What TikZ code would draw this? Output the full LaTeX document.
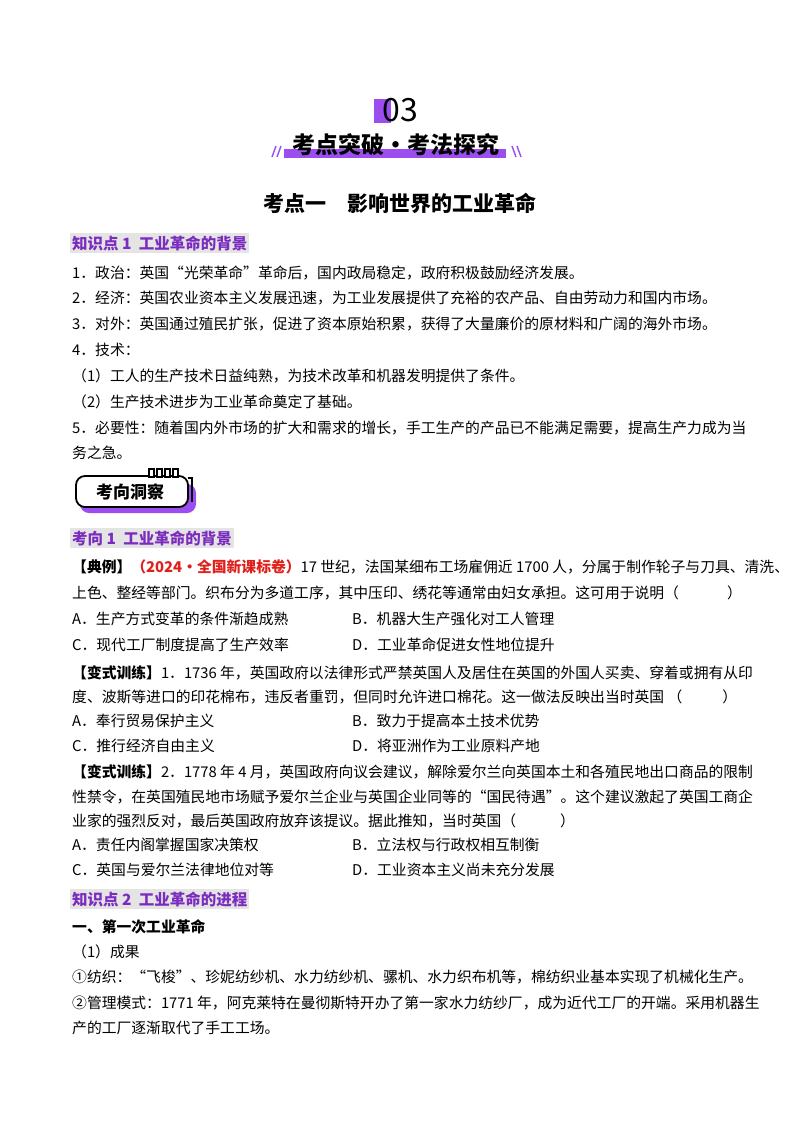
\documentclass[tikz,border=0pt]{standalone}
\usepackage{fontspec}
\setmainfont{Noto Sans CJK SC}
\definecolor{pur}{HTML}{7B2CBF}
\definecolor{vio}{HTML}{9B4DF0}
\definecolor{hbg}{HTML}{E4E4E4}
\definecolor{redt}{HTML}{E0201B}
\begin{document}
\begin{tikzpicture}[x=1pt,y=-1pt,
  t/.style={anchor=west,inner sep=0pt,font=\fontsize{14.8}{17}\selectfont},
  h/.style={anchor=west,inner sep=2pt,fill=hbg,text=pur,font=\fontsize{15.5}{18}\selectfont\bfseries}]
\useasboundingbox (0,0) rectangle (800,1132);
\fill[white] (0,0) rectangle (800,1132);
% header
\fill[vio] (374,99) rectangle (391,123);
\node[inner sep=0pt,font=\fontsize{32}{32}\selectfont] (n03) at (400,110) {03};
\fill[vio] (284,149) rectangle (506,158);
\node[inner sep=0pt,font=\fontsize{23}{23}\selectfont\bfseries] (band) at (396,145) {考点突破·考法探究};
\draw[vio,line width=1.4pt] (272,157)--(276,146) (277,157)--(281,146) (512,146)--(516,157) (517,146)--(521,157);
\node[inner sep=0pt,font=\fontsize{21}{21}\selectfont\bfseries] (title) at (400,203) {考点一\quad 影响世界的工业革命};
% KP1
\node[h] (k1) at (70,243) {知识点 1\ \ 工业革命的背景};
\node[t] (l1) at (72,273) {1．政治：英国“光荣革命”革命后，国内政局稳定，政府积极鼓励经济发展。};
\node[t] (l2) at (72,298) {2．经济：英国农业资本主义发展迅速，为工业发展提供了充裕的农产品、自由劳动力和国内市场。};
\node[t] (l3) at (72,324) {3．对外：英国通过殖民扩张，促进了资本原始积累，获得了大量廉价的原材料和广阔的海外市场。};
\node[t] (l4) at (72,350) {4．技术：};
\node[t] (l5) at (72,376) {（1）工人的生产技术日益纯熟，为技术改革和机器发明提供了条件。};
\node[t] (l6) at (72,402) {（2）生产技术进步为工业革命奠定了基础。};
\node[t] (l7) at (72,428) {5．必要性：随着国内外市场的扩大和需求的增长，手工生产的产品已不能满足需要，提高生产力成为当};
\node[t] (l8) at (72,453) {务之急。};
% badge
\fill[vio,rounded corners=9pt] (80,484) rectangle (196,513);
\draw[line width=1.8pt,fill=white,rounded corners=9pt] (76,476) rectangle (188,507);
\foreach \x in {149,157,165,173}{\draw[line width=1.2pt,fill=white] (\x,469) rectangle (\x+5,477);}
\draw[line width=1.8pt] (188,478)--(192,478)--(192,502);
\node[inner sep=0pt,font=\fontsize{17}{17}\selectfont\bfseries] (bdg) at (130,492) {考向洞察};
% KX1
\node[h] (x1) at (70,538) {考向 1\ \ 工业革命的背景};
\node[t] (e1) at (72,567) {\textbf{【典例】}\textcolor{redt}{\textbf{（2024·全国新课标卷）}}17 世纪，法国某细布工场雇佣近 1700 人，分属于制作轮子与刀具、清洗、};
\node[t] (e2) at (72,593) {上色、整经等部门。织布分为多道工序，其中压印、绣花等通常由妇女承担。这可用于说明（\hspace{48pt}）};
\node[t] (e3) at (72,619) {A．生产方式变革的条件渐趋成熟};
\node[t] (e4) at (352,619) {B．机器大生产强化对工人管理};
\node[t] (e5) at (72,645) {C．现代工厂制度提高了生产效率};
\node[t] (e6) at (352,645) {D．工业革命促进女性地位提升};
\node[t] (b1) at (72,673) {\textbf{【变式训练】}1．1736 年，英国政府以法律形式严禁英国人及居住在英国的外国人买卖、穿着或拥有从印};
\node[t] (b2) at (72,697) {度、波斯等进口的印花棉布，违反者重罚，但同时允许进口棉花。这一做法反映出当时英国 （\hspace{40pt}）};
\node[t] (b3) at (72,721) {A．奉行贸易保护主义};
\node[t] (b4) at (352,721) {B．致力于提高本土技术优势};
\node[t] (b5) at (72,746) {C．推行经济自由主义};
\node[t] (b6) at (352,746) {D．将亚洲作为工业原料产地};
\node[t] (c1) at (72,772) {\textbf{【变式训练】}2．1778 年 4 月，英国政府向议会建议，解除爱尔兰向英国本土和各殖民地出口商品的限制};
\node[t] (c2) at (72,797) {性禁令，在英国殖民地市场赋予爱尔兰企业与英国企业同等的“国民待遇”。这个建议激起了英国工商企};
\node[t] (c3) at (72,821) {业家的强烈反对，最后英国政府放弃该提议。据此推知，当时英国（\hspace{44pt}）};
\node[t] (c4) at (72,845) {A．责任内阁掌握国家决策权};
\node[t] (c5) at (352,845) {B．立法权与行政权相互制衡};
\node[t] (c6) at (72,870) {C．英国与爱尔兰法律地位对等};
\node[t] (c7) at (352,870) {D．工业资本主义尚未充分发展};
% KP2
\node[h] (k2) at (70,899) {知识点 2\ \ 工业革命的进程};
\node[t,font=\fontsize{14.8}{17}\selectfont\bfseries] (m1) at (72,927) {一、第一次工业革命};
\node[t] (m2) at (72,952) {（1）成果};
\node[t] (m3) at (72,977) {①纺织：“飞梭”、珍妮纺纱机、水力纺纱机、骡机、水力织布机等，棉纺织业基本实现了机械化生产。};
\node[t] (m4) at (72,1003) {②管理模式：1771 年，阿克莱特在曼彻斯特开办了第一家水力纺纱厂，成为近代工厂的开端。采用机器生};
\node[t] (m5) at (72,1028) {产的工厂逐渐取代了手工工场。};
\end{tikzpicture}
\end{document}
